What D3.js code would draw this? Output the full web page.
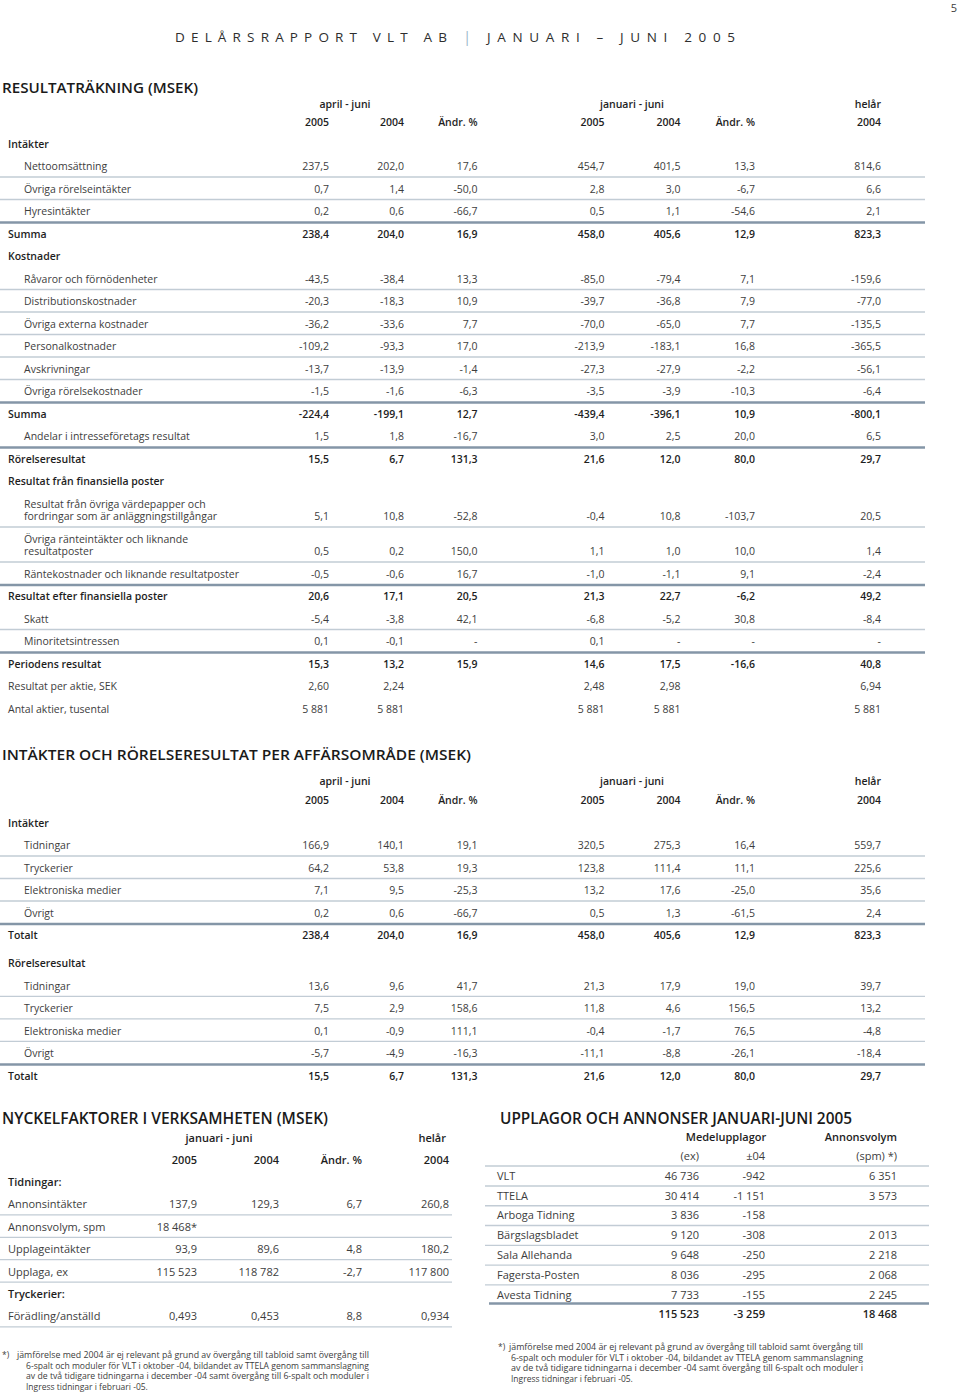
<!DOCTYPE html>
<html>
<head>
<meta charset="utf-8">
<title>Delårsrapport VLT AB</title>
<script src="https://d3js.org/d3.v7.min.js"></script>
<style>
  html, body { margin: 0; padding: 0; background: #fff; }
  svg { display: block; font-family: "Open Sans", sans-serif; }
</style>
</head>
<body>
<script>
// ---- data: resultaträkning ----
const incomeLabels = ["Intäkter", "Nettoomsättning", "Övriga rörelseintäkter", "Hyresintäkter", "Summa",
  "Kostnader", "Råvaror och förnödenheter", "Distributionskostnader", "Övriga externa kostnader",
  "Personalkostnader", "Avskrivningar", "Övriga rörelsekostnader", "Summa",
  "Andelar i intresseföretags resultat", "Rörelseresultat", "Resultat från finansiella poster",
  "Resultat från övriga värdepapper och\nfordringar som är anläggningstillgångar",
  "Övriga ränteintäkter och liknande\nresultatposter",
  "Räntekostnader och liknande resultatposter", "Resultat efter finansiella poster",
  "Skatt", "Minoritetsintressen", "Periodens resultat", "Resultat per aktie, SEK", "Antal aktier, tusental"];
// h = section head, i = indented item, s = sum, p = plain
const incomeKinds = ["h","i","i","i","s","h","i","i","i","i","i","i","s","i","s","h","i","i","i","s","i","i","s","p","p"];
const incomeDecimals = [1,1,1,1,1,1,1,1,1,1,1,1,1,1,1,1,1,1,1,1,1,1,1,2,0];
const incomeQ2_2005 = [null,237.5,0.7,0.2,238.4,null,-43.5,-20.3,-36.2,-109.2,-13.7,-1.5,-224.4,1.5,15.5,null,5.1,0.5,-0.5,20.6,-5.4,0.1,15.3,2.60,5881];
const incomeQ2_2004 = [null,202.0,1.4,0.6,204.0,null,-38.4,-18.3,-33.6,-93.3,-13.9,-1.6,-199.1,1.8,6.7,null,10.8,0.2,-0.6,17.1,-3.8,-0.1,13.2,2.24,5881];
const incomeQ2_chg  = [null,17.6,-50.0,-66.7,16.9,null,13.3,10.9,7.7,17.0,-1.4,-6.3,12.7,-16.7,131.3,null,-52.8,150.0,16.7,20.5,42.1,NaN,15.9,null,null];
const incomeH1_2005 = [null,454.7,2.8,0.5,458.0,null,-85.0,-39.7,-70.0,-213.9,-27.3,-3.5,-439.4,3.0,21.6,null,-0.4,1.1,-1.0,21.3,-6.8,0.1,14.6,2.48,5881];
const incomeH1_2004 = [null,401.5,3.0,1.1,405.6,null,-79.4,-36.8,-65.0,-183.1,-27.9,-3.9,-396.1,2.5,12.0,null,10.8,1.0,-1.1,22.7,-5.2,NaN,17.5,2.98,5881];
const incomeH1_chg  = [null,13.3,-6.7,-54.6,12.9,null,7.1,7.9,7.7,16.8,-2.2,-10.3,10.9,20.0,80.0,null,-103.7,10.0,9.1,-6.2,30.8,NaN,-16.6,null,null];
const incomeFY_2004 = [null,814.6,6.6,2.1,823.3,null,-159.6,-77.0,-135.5,-365.5,-56.1,-6.4,-800.1,6.5,29.7,null,20.5,1.4,-2.4,49.2,-8.4,NaN,40.8,6.94,5881];

// ---- data: per affärsområde ----
const segLabels = ["Intäkter","Tidningar","Tryckerier","Elektroniska medier","Övrigt","Totalt",
  "Rörelseresultat","Tidningar","Tryckerier","Elektroniska medier","Övrigt","Totalt"];
const segKinds = ["h","i","i","i","i","s","h","i","i","i","i","s"];
const segQ2_2005 = [null,166.9,64.2,7.1,0.2,238.4,null,13.6,7.5,0.1,-5.7,15.5];
const segQ2_2004 = [null,140.1,53.8,9.5,0.6,204.0,null,9.6,2.9,-0.9,-4.9,6.7];
const segQ2_chg  = [null,19.1,19.3,-25.3,-66.7,16.9,null,41.7,158.6,111.1,-16.3,131.3];
const segH1_2005 = [null,320.5,123.8,13.2,0.5,458.0,null,21.3,11.8,-0.4,-11.1,21.6];
const segH1_2004 = [null,275.3,111.4,17.6,1.3,405.6,null,17.9,4.6,-1.7,-8.8,12.0];
const segH1_chg  = [null,16.4,11.1,-25.0,-61.5,12.9,null,19.0,156.5,76.5,-26.1,80.0];
const segFY_2004 = [null,559.7,225.6,35.6,2.4,823.3,null,39.7,13.2,-4.8,-18.4,29.7];

// ---- data: nyckelfaktorer ----
const keyLabels = ["Tidningar:","Annonsintäkter","Annonsvolym, spm","Upplageintäkter","Upplaga, ex","Tryckerier:","Förädling/anställd"];
const keyKinds = ["h","p","p","p","p","h","p"];
const keyDecimals = [1,1,0,1,0,1,3];
const keyH1_2005 = [null,137.9,18468,93.9,115523,null,0.493];
const keyH1_2004 = [null,129.3,null,89.6,118782,null,0.453];
const keyH1_chg  = [null,6.7,null,4.8,-2.7,null,8.8];
const keyFY_2004 = [null,260.8,null,180.2,117800,null,0.934];
const keySuffix  = ["","","*","","","",""];

// ---- data: upplagor och annonser ----
const papers = ["VLT","TTELA","Arboga Tidning","Bärgslagsbladet","Sala Allehanda","Fagersta-Posten","Avesta Tidning"];
const circulation = [46736,30414,3836,9120,9648,8036,7733];
const circulationChg = [-942,-1151,-158,-308,-250,-295,-155];
const adVolume = [6351,3573,null,2013,2218,2068,2245];
const circulationTotal = 115523, circulationChgTotal = -3259, adVolumeTotal = 18468;

const footnote = ["jämförelse med 2004 är ej relevant på grund av övergång till tabloid samt övergång till",
  "6-spalt och moduler för VLT i oktober -04, bildandet av TTELA genom sammanslagning",
  "av de två tidigare tidningarna i december -04 samt övergång till 6-spalt och moduler i",
  "Ingress tidningar i februari -05."];

// ---- setup ----
const width = 960, height = 1392;
const svg = d3.select("body").append("svg").attr("width", width).attr("height", height);

const sv = d3.formatLocale({decimal: ",", thousands: " ", grouping: [3], minus: "-"});
function fmt(v, dec) {
  if (v === null || v === undefined) return "";
  if (Number.isNaN(v)) return "-";
  return dec === 0 ? sv.format(",d")(v) : sv.format(",." + dec + "f")(v);
}

const textCol = "#3d3d3d", boldCol = "#1e1e1e";
const thinLine = "#c2ccd5", thickLine = "#8496a7";

function fitText(sel, target) {
  const n = sel.text().length;
  const w = sel.node().getComputedTextLength();
  sel.style("letter-spacing", ((target - w) / (n - 1)) + "px");
}

// page header
svg.append("text").attr("x", 957).attr("y", 12).attr("text-anchor", "end")
  .attr("font-size", 11).attr("fill", textCol).text("5");
const h1 = svg.append("text").attr("x", 175).attr("y", 42).attr("font-size", 13.5)
  .attr("font-weight", 400).attr("fill", "#2e2e2e").text("DELÅRSRAPPORT VLT AB");
fitText(h1, 272);
svg.append("text").attr("x", 463).attr("y", 42).attr("font-size", 15)
  .attr("font-weight", 400).attr("fill", "#9cb7ca").text("|");
const h2 = svg.append("text").attr("x", 487).attr("y", 42).attr("font-size", 13.5)
  .attr("font-weight", 400).attr("fill", "#2e2e2e").text("JANUARI – JUNI 2005");
fitText(h2, 248);

function title(x, y, txt, w, size) {
  svg.append("text").attr("x", x).attr("y", y).attr("font-size", size)
    .attr("font-weight", 600).attr("fill", "#1a1a1a")
    .attr("textLength", w).attr("lengthAdjust", "spacingAndGlyphs").text(txt);
}

// generic table drawer
function drawTable(opt) {
  const g = svg.append("g");
  const y = d3.scaleLinear().domain([0, 1]).range([opt.y0, opt.y0 + opt.pitch]);
  const x = d3.scaleOrdinal().domain(d3.range(opt.colX.length)).range(opt.colX);

  // row units, two-line rows add extra
  let u = 0;
  const rows = opt.labels.map((lab, i) => {
    if (opt.gapBefore && opt.gapBefore.includes(i)) u += opt.gapSize;
    const lines = lab.split("\n");
    const r = {i, lines, first: u, last: u + (lines.length - 1) * 0.556, kind: opt.kinds[i]};
    u = r.last + 1;
    return r;
  });

  rows.forEach((r, k) => {
    const bold = r.kind === "h" || r.kind === "s";
    const lx = r.kind === "i" ? opt.indentX : opt.labelX;
    r.lines.forEach((ln, j) => {
      g.append("text").attr("x", lx).attr("y", y(r.first + j * 0.556)).attr("dy", "0.36em")
        .attr("font-size", opt.fontSize).attr("font-weight", bold ? 600 : 400)
        .attr("fill", bold ? boldCol : textCol).text(ln);
    });
    opt.cols.forEach((arr, c) => {
      const v = arr[r.i];
      let dec = opt.decimals ? opt.decimals[r.i] : 1;
      if (opt.chgCols && opt.chgCols.includes(c)) dec = 1;
      const s = fmt(v, dec) + (v !== null && opt.suffix ? opt.suffix[r.i] : "");
      if (!s) return;
      g.append("text").attr("x", x(c)).attr("y", y(r.last)).attr("dy", "0.36em")
        .attr("text-anchor", "end").attr("font-size", opt.fontSize)
        .attr("font-weight", bold ? 600 : 400).attr("fill", bold ? boldCol : textCol).text(s);
    });
    // separator below the row
    const next = rows[k + 1];
    if (r.kind === "h" || r.kind === "s") return;
    if (!opt.lineAfterLast && !next) return;
    if (next && next.kind === "p" && r.kind === "p" && opt.noPlainLines) return;
    const thick = next && next.kind === "s";
    g.append("line").attr("x1", opt.lineX0).attr("x2", opt.lineX1)
      .attr("y1", y(r.last) + (thick ? 11 : 10.5)).attr("y2", y(r.last) + (thick ? 11 : 10.5))
      .attr("stroke", thick ? thickLine : thinLine).attr("stroke-width", thick ? 2.5 : 1.3);
  });

  // column heads
  opt.groups.forEach(gr => {
    g.append("text").attr("x", gr.x).attr("y", opt.headY1).attr("dy", "0.36em")
      .attr("text-anchor", gr.anchor).attr("font-size", opt.fontSize).attr("font-weight", 600)
      .attr("fill", boldCol).text(gr.text);
  });
  opt.colHeads.forEach((t, c) => {
    g.append("text").attr("x", x(c)).attr("y", opt.headY2).attr("dy", "0.36em")
      .attr("text-anchor", "end").attr("font-size", opt.fontSize).attr("font-weight", 600)
      .attr("fill", boldCol).text(t);
  });
}

const bigCols = [329, 404, 477.5, 604.5, 680.5, 755, 881];
const bigHeads = ["2005", "2004", "Ändr. %", "2005", "2004", "Ändr. %", "2004"];
const bigGroups = [
  {text: "april - juni", x: 345, anchor: "middle"},
  {text: "januari - juni", x: 632, anchor: "middle"},
  {text: "helår", x: 881, anchor: "end"}
];

// RESULTATRÄKNING
title(2, 93, "RESULTATRÄKNING (MSEK)", 196, 14);
drawTable({
  labels: incomeLabels, kinds: incomeKinds, decimals: incomeDecimals,
  cols: [incomeQ2_2005, incomeQ2_2004, incomeQ2_chg, incomeH1_2005, incomeH1_2004, incomeH1_chg, incomeFY_2004],
  colX: bigCols, colHeads: bigHeads, groups: bigGroups,
  y0: 144, pitch: 22.5, headY1: 104, headY2: 122.5,
  labelX: 8, indentX: 24, fontSize: 10.5, lineX0: 0, lineX1: 925,
  lineAfterLast: false, noPlainLines: true
});

// PER AFFÄRSOMRÅDE
title(2, 760, "INTÄKTER OCH RÖRELSERESULTAT PER AFFÄRSOMRÅDE (MSEK)", 469, 14);
drawTable({
  labels: segLabels, kinds: segKinds,
  cols: [segQ2_2005, segQ2_2004, segQ2_chg, segH1_2005, segH1_2004, segH1_chg, segFY_2004],
  colX: bigCols, colHeads: bigHeads, groups: bigGroups,
  y0: 823, pitch: 22.5, headY1: 781.5, headY2: 800.5, gapBefore: [6], gapSize: 0.24,
  labelX: 8, indentX: 24, fontSize: 10.5, lineX0: 0, lineX1: 925,
  lineAfterLast: false
});

// NYCKELFAKTORER
title(2, 1124, "NYCKELFAKTORER I VERKSAMHETEN (MSEK)", 326, 15.5);
drawTable({
  labels: keyLabels, kinds: keyKinds, decimals: keyDecimals, suffix: keySuffix, chgCols: [2],
  cols: [keyH1_2005, keyH1_2004, keyH1_chg, keyFY_2004],
  colX: [197, 279, 362, 449], colHeads: ["2005", "2004", "Ändr. %", "2004"],
  groups: [{text: "januari - juni", x: 219, anchor: "middle"}, {text: "helår", x: 446, anchor: "end"}],
  y0: 1182, pitch: 22.4, headY1: 1138, headY2: 1160,
  labelX: 8, indentX: 8, fontSize: 11, lineX0: 0, lineX1: 452,
  lineAfterLast: true
});

// UPPLAGOR OCH ANNONSER
title(500, 1124, "UPPLAGOR OCH ANNONSER JANUARI-JUNI 2005", 352, 15.5);
{
  const g = svg.append("g");
  const y = d3.scaleLinear().domain([0, 1]).range([1176, 1195.76]);
  const x = d3.scaleOrdinal().domain([0, 1, 2]).range([699, 765, 897]);
  const fs = 11;
  g.append("text").attr("x", 726).attr("y", 1137).attr("dy", "0.36em").attr("text-anchor", "middle")
    .attr("font-size", fs).attr("font-weight", 600).attr("fill", boldCol).text("Medelupplagor");
  g.append("text").attr("x", 897).attr("y", 1137).attr("dy", "0.36em").attr("text-anchor", "end")
    .attr("font-size", fs).attr("font-weight", 600).attr("fill", boldCol).text("Annonsvolym");
  ["(ex)", "±04", "(spm)   *)"].forEach((t, c) => {
    g.append("text").attr("x", x(c)).attr("y", 1156).attr("dy", "0.36em").attr("text-anchor", "end")
      .attr("font-size", fs).attr("fill", textCol).text(t);
  });
  g.append("line").attr("x1", 485).attr("x2", 929).attr("y1", 1166).attr("y2", 1166)
    .attr("stroke", thinLine).attr("stroke-width", 1.3);
  const cols = [circulation, circulationChg, adVolume];
  papers.forEach((p, i) => {
    g.append("text").attr("x", 497).attr("y", y(i)).attr("dy", "0.36em")
      .attr("font-size", fs).attr("fill", textCol).text(p);
    cols.forEach((arr, c) => {
      const s = fmt(arr[i], 0);
      if (!s) return;
      g.append("text").attr("x", x(c)).attr("y", y(i)).attr("dy", "0.36em").attr("text-anchor", "end")
        .attr("font-size", fs).attr("fill", textCol).text(s);
    });
    const last = i === papers.length - 1;
    g.append("line").attr("x1", last ? 489 : 485).attr("x2", 929)
      .attr("y1", y(i) + (last ? 9 : 10)).attr("y2", y(i) + (last ? 9 : 10))
      .attr("stroke", last ? thickLine : thinLine).attr("stroke-width", last ? 2.5 : 1.3);
  });
  [circulationTotal, circulationChgTotal, adVolumeTotal].forEach((v, c) => {
    g.append("text").attr("x", x(c)).attr("y", y(papers.length)).attr("dy", "0.36em").attr("text-anchor", "end")
      .attr("font-size", fs).attr("font-weight", 600).attr("fill", boldCol).text(fmt(v, 0));
  });
}

// footnotes
function drawFootnote(x0, xText, xCont, y0, w) {
  svg.append("text").attr("x", x0).attr("y", y0).attr("dy", "0.36em")
    .attr("font-size", 8.5).attr("fill", textCol).text("*)");
  footnote.forEach((ln, i) => {
    const t = svg.append("text").attr("x", i === 0 ? xText : xCont).attr("y", y0 + i * 10.6)
      .attr("dy", "0.36em").attr("font-size", 8.5).attr("fill", textCol).text(ln);
    if (i < 3) t.attr("textLength", w - (i === 0 ? 0 : xCont - xText)).attr("lengthAdjust", "spacingAndGlyphs");
  });
}
drawFootnote(2, 17, 26, 1355, 352);
drawFootnote(498, 509, 511, 1347, 354);
</script>
</body>
</html>
